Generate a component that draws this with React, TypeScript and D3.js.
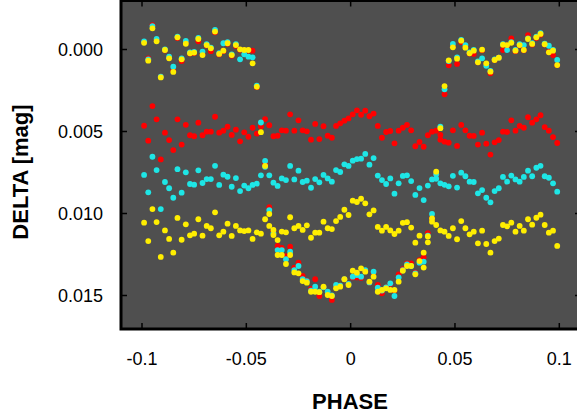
import React from "react";
import * as d3 from "d3";

// Phase grid (step 0.002)
const phases: number[] = d3.range(100).map((i) => -0.099 + 0.002 * i);

// Values in mmag (0.001 mag)
const redBand = [4.65,5.56,3.45,4.26,6.70,5.07,5.52,6.13,4.26,5.80,4.59,5.23,5.29,4.46,5.23,5.01,5.01,4.10,5.07,4.95,4.71,5.21,4.89,5.60,5.05,5.32,4.77,5.13,4.66,4.24,4.62,5.29,5.26,4.93,4.95,3.95,4.95,4.32,4.93,4.99,5.50,4.54,5.46,4.68,5.26,5.38,4.66,4.50,4.34,4.20,3.95,3.71,3.98,3.73,4.07,3.91,4.66,5.38,5.03,4.97,5.72,4.95,4.77,4.60,4.93,5.90,5.64,5.93,5.23,5.01,4.95,5.50,5.62,5.68,4.93,5.88,4.60,4.93,5.26,5.27,5.80,5.07,5.74,6.41,5.66,5.52,5.01,5.03,4.32,4.95,4.66,4.77,4.13,4.46,4.26,4.01,4.73,4.95,5.34,5.70];
const cyanBand = [7.65,8.71,6.54,7.35,9.73,8.08,8.46,9.04,7.30,8.73,7.49,8.20,8.24,7.37,8.14,7.90,7.90,7.09,8.26,7.63,7.76,8.37,7.84,8.63,8.30,8.46,8.26,8.18,7.67,6.80,7.67,8.12,8.32,7.86,7.96,7.10,7.92,7.39,8.08,8.00,8.43,7.90,8.10,7.65,7.86,8.06,7.35,7.47,7.00,7.10,6.78,6.68,6.66,6.37,7.02,6.62,7.69,7.96,8.20,7.86,8.79,8.16,7.71,7.67,8.02,8.87,8.45,9.18,8.30,7.92,7.88,8.16,8.25,8.34,7.70,8.42,7.51,7.73,8.06,8.08,8.77,8.57,9.04,9.32,8.63,8.46,7.77,8.06,7.69,7.92,8.06,7.77,7.39,7.73,7.21,7.09,7.73,7.82,8.16,8.67];
const yellowBand = [10.56,11.68,9.73,10.52,12.65,11.03,11.55,12.39,10.27,11.60,10.66,11.33,11.23,10.35,11.35,10.76,10.90,9.93,11.33,11.11,10.62,11.37,10.76,11.03,11.07,11.03,11.55,11.15,11.23,10.35,10.76,11.00,11.62,11.10,11.15,10.23,10.90,10.76,11.00,10.72,11.48,11.17,11.17,10.50,10.90,10.95,10.46,10.21,9.77,10.09,9.22,9.30,9.10,9.38,10.05,9.81,10.82,11.05,10.82,11.03,11.25,11.05,10.57,10.53,10.86,11.78,11.35,12.39,11.76,10.50,10.70,11.03,11.11,11.37,10.90,11.57,10.46,10.90,11.27,11.11,11.82,11.05,11.86,12.39,11.68,11.53,10.70,10.78,10.56,11.11,10.76,11.05,10.35,10.68,10.26,10.07,10.70,11.17,11.05,11.98];
const redCurve = [-0.45,0.54,-1.49,-0.60,1.65,0.05,0.50,1.30,-0.70,0.70,-0.40,0.25,0.22,-0.50,0.30,-0.25,0.10,-1.05,0.30,0.10,-0.35,0.38,-0.22,0.02,0.06,0.06,0.07,2.30,4.70,7.00,9.62,11.10,11.98,12.10,12.60,12.02,13.30,13.00,13.81,14.10,14.60,14.01,15.03,14.50,14.90,15.27,14.40,14.40,14.00,14.30,13.90,13.90,13.93,13.50,14.20,13.60,14.36,14.87,14.50,14.30,14.70,13.71,13.40,13.04,13.04,13.60,12.85,12.67,11.20,10.30,7.60,5.21,2.73,0.96,-0.20,0.88,-0.45,-0.15,0.25,0.27,0.78,0.05,0.88,1.45,0.64,0.50,0.03,-0.25,-0.68,0.10,-0.25,0.05,-0.88,-0.30,-0.70,-0.90,-0.30,0.15,0.34,0.95];
const cyanCurve = [-0.50,0.60,-1.43,-0.64,1.65,0.00,0.44,1.05,-0.78,0.55,-0.52,0.18,0.15,-0.70,0.13,-0.32,-0.12,-1.20,0.22,-0.38,-0.45,0.30,-0.32,0.60,0.29,0.44,0.48,2.20,4.45,7.15,9.79,11.20,12.23,12.23,12.79,12.33,13.45,13.20,14.00,14.12,14.70,14.46,14.77,14.50,14.77,15.00,14.36,14.40,14.00,14.30,13.85,13.75,13.85,13.45,14.20,13.55,14.52,14.70,14.50,14.26,15.03,13.90,13.45,13.10,13.20,13.65,13.00,12.94,11.35,10.03,7.60,4.70,2.43,0.70,-0.34,0.48,-0.58,-0.27,0.18,0.02,0.72,0.54,0.99,1.30,0.60,0.50,-0.33,0.03,-0.45,0.02,-0.32,-0.27,-0.68,-0.38,-0.78,-1.00,-0.36,-0.23,0.02,0.64];
const yellowCurve = [-0.41,0.68,-1.29,-0.50,1.70,0.03,0.54,1.37,-0.74,0.60,-0.35,0.23,0.19,-0.64,0.34,-0.27,-0.07,-1.09,0.27,0.07,-0.38,0.34,-0.27,-0.01,0.03,0.03,0.84,2.27,5.04,7.10,10.03,11.31,12.53,12.53,13.08,12.53,13.59,13.65,14.12,14.22,14.77,14.77,14.80,14.46,14.97,15.03,14.56,14.46,14.01,14.36,13.49,13.61,13.34,13.55,14.16,13.85,14.77,14.66,14.56,14.66,14.66,14.16,13.49,13.20,13.20,13.71,12.90,13.30,11.40,10.30,7.45,4.80,2.23,0.66,-0.13,0.56,-0.54,-0.11,0.23,0.07,0.78,0.01,0.84,1.35,0.64,0.50,-0.29,-0.27,-0.41,0.07,-0.27,0.03,-0.64,-0.34,-0.74,-0.95,-0.32,0.17,0.07,0.95];

const xTicks = [-0.1, -0.05, 0, 0.05, 0.1];
const xTickLabels = ["-0.1", "-0.05", "0", "0.05", "0.1"];
const yTicks = [0, 0.005, 0.01, 0.015];
const yTickLabels = ["0.000", "0.005", "0.010", "0.015"];

const RED = "#ff0000";
const CYAN = "#1ee6e6";
const YELLOW = "#ffee00";

const series = [
  { name: "redBand", values: redBand, color: RED },
  { name: "redCurve", values: redCurve, color: RED },
  { name: "cyanBand", values: cyanBand, color: CYAN },
  { name: "cyanCurve", values: cyanCurve, color: CYAN },
  { name: "yellowBand", values: yellowBand, color: YELLOW },
  { name: "yellowCurve", values: yellowCurve, color: YELLOW },
];

export default function App() {
  const W = 577, H = 417;
  const left = 121, top = 0.5, right = 581, bottom = 329;
  const x = d3.scaleLinear().domain([-0.1, 0.1]).range([142, 559.3]);
  const y = d3.scaleLinear().domain([0, 0.015]).range([49.5, 295.5]);
  const font = "'Liberation Sans', Arial, sans-serif";
  const tl = 6;
  return (
    <svg width={W} height={H} style={{ position: "absolute", left: 0, top: 0 }}>
      <defs>
        <clipPath id="plotClip">
          <rect x={left} y={top} width={right - left} height={bottom - top} />
        </clipPath>
      </defs>
      <rect x={left} y={top} width={right - left} height={bottom - top} fill="#4f4f4f" />
      <g clipPath="url(#plotClip)">
        {series.map((s) => (
          <g key={s.name}>
            {s.values.map((v, i) => (
              <circle key={i} cx={x(phases[i])} cy={y(v / 1000)} r={2.9} fill={s.color} />
            ))}
          </g>
        ))}
      </g>
      <g stroke="#000" strokeWidth={1.5}>
        {xTicks.map((t) => (
          <g key={"xt" + t}>
            <line x1={x(t)} x2={x(t)} y1={bottom} y2={bottom - tl} />
            <line x1={x(t)} x2={x(t)} y1={top} y2={top + tl} />
          </g>
        ))}
        {yTicks.map((t) => (
          <g key={"yt" + t}>
            <line x1={left} x2={left + tl} y1={y(t)} y2={y(t)} />
            <line x1={right} x2={right - tl} y1={y(t)} y2={y(t)} />
          </g>
        ))}
      </g>
      <rect x={left} y={top} width={right - left} height={bottom - top} fill="none" stroke="#000" strokeWidth={3} />
      <g fontFamily={font} fontSize={18} fill="#000">
        {xTicks.map((t, i) => (
          <text key={"xl" + t} x={x(t)} y={365} textAnchor="middle">{xTickLabels[i]}</text>
        ))}
        {yTicks.map((t, i) => (
          <text key={"yl" + t} x={103} y={y(t) + 6.5} textAnchor="end">{yTickLabels[i]}</text>
        ))}
      </g>
      <text x={350} y={409} textAnchor="middle" fontFamily={font} fontSize={22} fontWeight="bold">PHASE</text>
      <text transform="translate(28,172) rotate(-90)" textAnchor="middle" fontFamily={font} fontSize={22} fontWeight="bold">DELTA [mag]</text>
    </svg>
  );
}
